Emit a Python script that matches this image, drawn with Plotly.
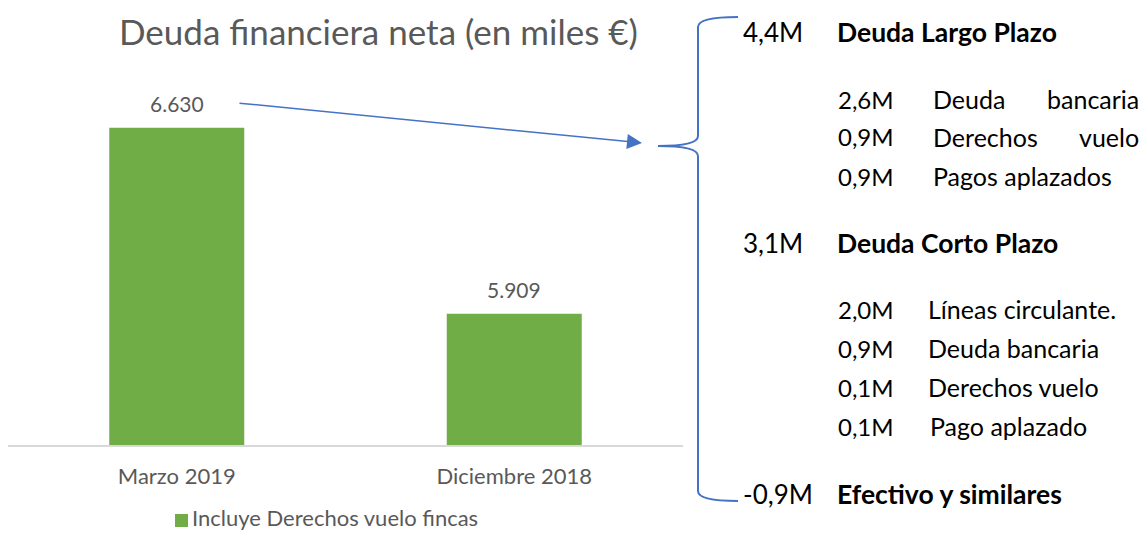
import plotly.graph_objects as go

W, H = 1143, 533

# ---- data ----
categories = ["Marzo 2019", "Diciembre 2018"]
values = [6630, 5909]
series_name = "Incluye Derechos vuelo fincas"
title_text = "Deuda financiera neta (en miles €)"

group_values = ["4,4M", "3,1M", "-0,9M"]
group_labels = ["Deuda Largo Plazo", "Deuda Corto Plazo", "Efectivo y similares"]

lp_values = ["2,6M", "0,9M", "0,9M"]
lp_labels = [("Deuda", "bancaria"), ("Derechos", "vuelo"), ("Pagos aplazados", None)]

cp_values = ["2,0M", "0,9M", "0,1M", "0,1M"]
cp_labels = ["Líneas circulante.", "Deuda bancaria", "Derechos vuelo", "Pago aplazado"]

GREEN = "#70AD47"
GRAY = "#595959"
BLUE = "#4472C4"
FONT = "Lato"


def px(x):
    return x / W


def py(y):
    return 1 - y / H


def fmt_es(v):
    return f"{v:,}".replace(",", ".")


fig = go.Figure()
fig.add_trace(go.Bar(
    x=categories, y=values, name=series_name,
    marker=dict(color=GREEN, line=dict(width=0)),
    width=0.4, showlegend=False,
))

annotations = []
shapes = []

# data labels (anchored to the data through the axes)
for c, v in zip(categories, values):
    annotations.append(dict(text=fmt_es(v), x=c, y=v, xref="x", yref="y",
                            showarrow=False, xanchor="center", yanchor="middle", yshift=24,
                            font=dict(family=FONT, size=21, color=GRAY)))

# title
annotations.append(dict(text=title_text, x=px(378), y=py(31), xref="paper", yref="paper",
                        showarrow=False, xanchor="center", yanchor="middle",
                        font=dict(family=FONT, size=35, color=GRAY)))

# legend (square + text)
shapes.append(dict(type="rect", xref="paper", yref="paper",
                   x0=px(175), x1=px(188), y0=py(527), y1=py(514),
                   fillcolor=GREEN, line=dict(width=0)))
annotations.append(dict(text=series_name, x=px(190), y=py(532.5), xref="paper", yref="paper",
                        showarrow=False, xanchor="left", yanchor="bottom",
                        font=dict(family=FONT, size=22, color=GRAY)))

# arrow
annotations.append(dict(text="", x=px(642), y=py(143), xref="paper", yref="paper",
                        ax=238 - 642, ay=103 - 143, axref="pixel", ayref="pixel",
                        showarrow=True, arrowhead=2, arrowsize=2.0, arrowwidth=1.5,
                        arrowcolor=BLUE, standoff=0))

# brace
pts = [(738, 17), (698, 17), (698, 27), (698, 136), (698, 146), (658, 146),
       (698, 146), (698, 156), (698, 491), (698, 501), (738, 501)]
P = [(px(a), py(b)) for a, b in pts]
path = (f"M {P[0][0]},{P[0][1]} Q {P[1][0]},{P[1][1]} {P[2][0]},{P[2][1]} "
        f"L {P[3][0]},{P[3][1]} Q {P[4][0]},{P[4][1]} {P[5][0]},{P[5][1]} "
        f"Q {P[6][0]},{P[6][1]} {P[7][0]},{P[7][1]} "
        f"L {P[8][0]},{P[8][1]} Q {P[9][0]},{P[9][1]} {P[10][0]},{P[10][1]}")
shapes.append(dict(type="path", path=path, xref="paper", yref="paper",
                   line=dict(color=BLUE, width=2)))

HV = dict(family=FONT, size=26, color="#000000")
HB = dict(family=FONT, size=26.5, color="#000000", weight="bold")
SV = dict(family=FONT, size=24, color="#000000")
SL = dict(family=FONT, size=25, color="#000000")


def add_text(t, x, y, font, anchor="left"):
    annotations.append(dict(text=t, x=px(x), y=py(y), xref="paper", yref="paper",
                            showarrow=False, xanchor=anchor, yanchor="middle", font=font))


group_y = [32, 243, 494]
for v, l, gy in zip(group_values, group_labels, group_y):
    add_text(v, 741, gy, HV)
    add_text(l, 835, gy, HB)

lp_y = [99, 137, 176]
for v, (a, b), yy in zip(lp_values, lp_labels, lp_y):
    add_text(v, 836, yy, SV)
    add_text(a, 931, yy, SL)
    if b:
        add_text(b, 1141, yy, SL, anchor="right")

cp_y = [309, 348, 387, 426]
cp_lx = [926, 926, 926, 928]
for v, l, yy, lx in zip(cp_values, cp_labels, cp_y, cp_lx):
    add_text(v, 836, yy, SV)
    add_text(l, lx, yy, SL)

y_lo, y_hi = 5400, 6800
fig.update_layout(
    width=W, height=H,
    margin=dict(l=0, r=0, t=0, b=0),
    paper_bgcolor="white", plot_bgcolor="white",
    showlegend=False,
    xaxis=dict(domain=[px(8), px(683)], showgrid=False, showline=True,
               linecolor="#D9D9D9", linewidth=1.5, ticks="", ticklabelstandoff=11,
               tickfont=dict(family=FONT, size=22, color=GRAY), fixedrange=True,
               automargin=False),
    yaxis=dict(domain=[py(445), py(84)], range=[y_lo, y_hi], visible=False,
               showgrid=False, fixedrange=True, automargin=False),
    annotations=annotations,
    shapes=shapes,
    bargap=0.6,
)

fig.write_html("out.html", config={"displayModeBar": False},
               post_script="document.body.style.margin='0';document.body.style.overflow='hidden';")
